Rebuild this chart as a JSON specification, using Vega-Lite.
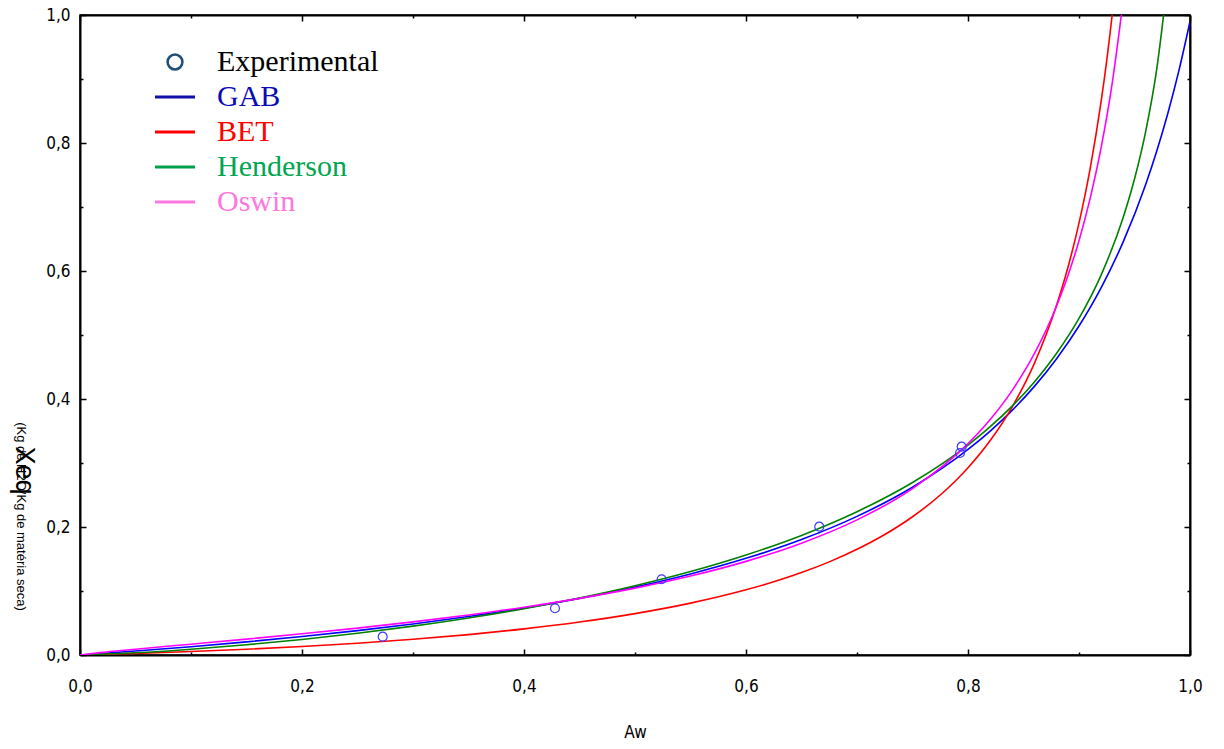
{
  "$schema": "https://vega.github.io/schema/vega-lite/v6.json",
  "width": 1110,
  "height": 640,
  "autosize": {"type": "none"},
  "padding": {"left": 80, "top": 15, "right": 34, "bottom": 94},
  "background": "white",
  "config": {
    "view": {"stroke": "black", "strokeWidth": 1.5},
    "axis": {
      "labelFont": "DejaVu Sans Condensed, Liberation Sans Narrow, Liberation Sans",
      "labelFontSize": 17,
      "labelColor": "black",
      "titleFont": "DejaVu Sans Condensed, Liberation Sans Narrow, Liberation Sans",
      "titleFontSize": 17,
      "titleFontWeight": "normal",
      "titleColor": "black",
      "domainColor": "black",
      "domainWidth": 2,
      "tickColor": "black",
      "tickWidth": 1.5,
      "grid": false
    }
  },
  "datasets": {
    "curves": [
      {"series": "GAB", "aw": 0, "xeq": 0},
      {"series": "GAB", "aw": 0.05, "xeq": 0.0062},
      {"series": "GAB", "aw": 0.1, "xeq": 0.013},
      {"series": "GAB", "aw": 0.15, "xeq": 0.0205},
      {"series": "GAB", "aw": 0.2, "xeq": 0.0288},
      {"series": "GAB", "aw": 0.25, "xeq": 0.0381},
      {"series": "GAB", "aw": 0.3, "xeq": 0.0484},
      {"series": "GAB", "aw": 0.35, "xeq": 0.0601},
      {"series": "GAB", "aw": 0.4, "xeq": 0.0733},
      {"series": "GAB", "aw": 0.45, "xeq": 0.0885},
      {"series": "GAB", "aw": 0.5, "xeq": 0.1061},
      {"series": "GAB", "aw": 0.55, "xeq": 0.1266},
      {"series": "GAB", "aw": 0.6, "xeq": 0.151},
      {"series": "GAB", "aw": 0.65, "xeq": 0.1804},
      {"series": "GAB", "aw": 0.7, "xeq": 0.2166},
      {"series": "GAB", "aw": 0.75, "xeq": 0.2621},
      {"series": "GAB", "aw": 0.8, "xeq": 0.3211},
      {"series": "GAB", "aw": 0.82, "xeq": 0.3499},
      {"series": "GAB", "aw": 0.84, "xeq": 0.3826},
      {"series": "GAB", "aw": 0.86, "xeq": 0.4201},
      {"series": "GAB", "aw": 0.88, "xeq": 0.4634},
      {"series": "GAB", "aw": 0.9, "xeq": 0.514},
      {"series": "GAB", "aw": 0.92, "xeq": 0.574},
      {"series": "GAB", "aw": 0.94, "xeq": 0.6463},
      {"series": "GAB", "aw": 0.96, "xeq": 0.7349},
      {"series": "GAB", "aw": 0.97, "xeq": 0.7871},
      {"series": "GAB", "aw": 0.98, "xeq": 0.8461},
      {"series": "GAB", "aw": 0.99, "xeq": 0.9131},
      {"series": "GAB", "aw": 1.0, "xeq": 0.99},
      {"series": "BET", "aw": 0, "xeq": 0},
      {"series": "BET", "aw": 0.05, "xeq": 0.0024},
      {"series": "BET", "aw": 0.1, "xeq": 0.0054},
      {"series": "BET", "aw": 0.15, "xeq": 0.009},
      {"series": "BET", "aw": 0.2, "xeq": 0.0133},
      {"series": "BET", "aw": 0.25, "xeq": 0.0184},
      {"series": "BET", "aw": 0.3, "xeq": 0.0245},
      {"series": "BET", "aw": 0.35, "xeq": 0.0319},
      {"series": "BET", "aw": 0.4, "xeq": 0.0408},
      {"series": "BET", "aw": 0.45, "xeq": 0.0515},
      {"series": "BET", "aw": 0.5, "xeq": 0.0647},
      {"series": "BET", "aw": 0.55, "xeq": 0.0811},
      {"series": "BET", "aw": 0.6, "xeq": 0.1019},
      {"series": "BET", "aw": 0.625, "xeq": 0.1144},
      {"series": "BET", "aw": 0.65, "xeq": 0.1288},
      {"series": "BET", "aw": 0.675, "xeq": 0.1455},
      {"series": "BET", "aw": 0.7, "xeq": 0.1651},
      {"series": "BET", "aw": 0.725, "xeq": 0.1882},
      {"series": "BET", "aw": 0.75, "xeq": 0.216},
      {"series": "BET", "aw": 0.775, "xeq": 0.25},
      {"series": "BET", "aw": 0.79, "xeq": 0.2743},
      {"series": "BET", "aw": 0.8, "xeq": 0.2926},
      {"series": "BET", "aw": 0.82, "xeq": 0.3351},
      {"series": "BET", "aw": 0.84, "xeq": 0.3882},
      {"series": "BET", "aw": 0.86, "xeq": 0.4565},
      {"series": "BET", "aw": 0.88, "xeq": 0.5476},
      {"series": "BET", "aw": 0.89, "xeq": 0.6054},
      {"series": "BET", "aw": 0.9, "xeq": 0.6749},
      {"series": "BET", "aw": 0.91, "xeq": 0.7597},
      {"series": "BET", "aw": 0.92, "xeq": 0.8657},
      {"series": "BET", "aw": 0.925, "xeq": 0.9292},
      {"series": "BET", "aw": 0.93, "xeq": 1.0019},
      {"series": "BET", "aw": 0.94, "xeq": 1.1833},
      {"series": "Henderson", "aw": 0, "xeq": 0},
      {"series": "Henderson", "aw": 0.05, "xeq": 0.0035},
      {"series": "Henderson", "aw": 0.1, "xeq": 0.0091},
      {"series": "Henderson", "aw": 0.15, "xeq": 0.016},
      {"series": "Henderson", "aw": 0.2, "xeq": 0.0243},
      {"series": "Henderson", "aw": 0.25, "xeq": 0.034},
      {"series": "Henderson", "aw": 0.3, "xeq": 0.0451},
      {"series": "Henderson", "aw": 0.35, "xeq": 0.0578},
      {"series": "Henderson", "aw": 0.4, "xeq": 0.0724},
      {"series": "Henderson", "aw": 0.45, "xeq": 0.089},
      {"series": "Henderson", "aw": 0.5, "xeq": 0.1082},
      {"series": "Henderson", "aw": 0.55, "xeq": 0.1304},
      {"series": "Henderson", "aw": 0.6, "xeq": 0.1563},
      {"series": "Henderson", "aw": 0.65, "xeq": 0.1869},
      {"series": "Henderson", "aw": 0.7, "xeq": 0.2239},
      {"series": "Henderson", "aw": 0.75, "xeq": 0.2696},
      {"series": "Henderson", "aw": 0.8, "xeq": 0.3281},
      {"series": "Henderson", "aw": 0.82, "xeq": 0.3567},
      {"series": "Henderson", "aw": 0.84, "xeq": 0.3893},
      {"series": "Henderson", "aw": 0.86, "xeq": 0.4271},
      {"series": "Henderson", "aw": 0.88, "xeq": 0.4718},
      {"series": "Henderson", "aw": 0.9, "xeq": 0.5259},
      {"series": "Henderson", "aw": 0.92, "xeq": 0.594},
      {"series": "Henderson", "aw": 0.94, "xeq": 0.6847},
      {"series": "Henderson", "aw": 0.95, "xeq": 0.7437},
      {"series": "Henderson", "aw": 0.96, "xeq": 0.8175},
      {"series": "Henderson", "aw": 0.97, "xeq": 0.9151},
      {"series": "Henderson", "aw": 0.98, "xeq": 1.0569},
      {"series": "Oswin", "aw": 0, "xeq": 0},
      {"series": "Oswin", "aw": 0.02, "xeq": 0.0041},
      {"series": "Oswin", "aw": 0.05, "xeq": 0.0091},
      {"series": "Oswin", "aw": 0.1, "xeq": 0.0169},
      {"series": "Oswin", "aw": 0.15, "xeq": 0.0248},
      {"series": "Oswin", "aw": 0.2, "xeq": 0.0331},
      {"series": "Oswin", "aw": 0.25, "xeq": 0.042},
      {"series": "Oswin", "aw": 0.3, "xeq": 0.0517},
      {"series": "Oswin", "aw": 0.35, "xeq": 0.0625},
      {"series": "Oswin", "aw": 0.4, "xeq": 0.0746},
      {"series": "Oswin", "aw": 0.45, "xeq": 0.0885},
      {"series": "Oswin", "aw": 0.5, "xeq": 0.1045},
      {"series": "Oswin", "aw": 0.55, "xeq": 0.1234},
      {"series": "Oswin", "aw": 0.6, "xeq": 0.1463},
      {"series": "Oswin", "aw": 0.65, "xeq": 0.1747},
      {"series": "Oswin", "aw": 0.7, "xeq": 0.2111},
      {"series": "Oswin", "aw": 0.75, "xeq": 0.2601},
      {"series": "Oswin", "aw": 0.8, "xeq": 0.3302},
      {"series": "Oswin", "aw": 0.82, "xeq": 0.3679},
      {"series": "Oswin", "aw": 0.84, "xeq": 0.4139},
      {"series": "Oswin", "aw": 0.86, "xeq": 0.4715},
      {"series": "Oswin", "aw": 0.88, "xeq": 0.5462},
      {"series": "Oswin", "aw": 0.89, "xeq": 0.5926},
      {"series": "Oswin", "aw": 0.9, "xeq": 0.6474},
      {"series": "Oswin", "aw": 0.91, "xeq": 0.7131},
      {"series": "Oswin", "aw": 0.92, "xeq": 0.7934},
      {"series": "Oswin", "aw": 0.93, "xeq": 0.8944},
      {"series": "Oswin", "aw": 0.94, "xeq": 1.0256}
    ],
    "points": [
      {"series": "Experimental", "aw": 0.2727, "xeq": 0.0286},
      {"series": "Experimental", "aw": 0.4279, "xeq": 0.073},
      {"series": "Experimental", "aw": 0.524, "xeq": 0.1183},
      {"series": "Experimental", "aw": 0.666, "xeq": 0.2005},
      {"series": "Experimental", "aw": 0.7943, "xeq": 0.3255},
      {"series": "Experimental", "aw": 0.7928, "xeq": 0.3156}
    ]
  },
  "layer": [
    {
      "data": {"name": "points"},
      "mark": {"type": "line", "opacity": 0, "strokeWidth": 3},
      "encoding": {
        "x": {"field": "aw", "type": "quantitative", "scale": {"domain": [0, 1], "nice": false, "zero": false}, "axis": null},
        "y": {"field": "xeq", "type": "quantitative", "scale": {"domain": [0, 1], "nice": false}, "axis": null},
        "color": {
          "field": "series", "type": "nominal",
          "scale": {
            "domain": ["Experimental", "GAB", "BET", "Henderson", "Oswin"],
            "range": ["#1f4e79", "#1010a8", "#ff0000", "#00a14b", "#ff77dd"]
          },
          "legend": {
            "orient": "none",
            "legendX": 80,
            "legendY": 32,
            "title": null,
            "padding": 0,
            "symbolType": "stroke",
            "symbolSize": 1600,
            "symbolStrokeWidth": 3,
            "symbolOpacity": 1,
            "labelOffset": 27,
            "rowPadding": 5,
            "labelFont": "Liberation Serif",
            "labelFontSize": 30,
            "labelLimit": 0,
            "encode": {
              "symbols": {
                "update": {
                  "shape": {"signal": "datum.value === 'Experimental' ? 'circle' : 'stroke'"},
                  "size": {"signal": "datum.value === 'Experimental' ? 220 : 1600"},
                  "strokeWidth": {"signal": "datum.value === 'Experimental' ? 2.5 : 3"},
                  "fill": {"value": "transparent"},
                  "opacity": {"value": 1}
                }
              },
              "labels": {
                "update": {
                  "fill": {"signal": "datum.value === 'Experimental' ? '#000000' : datum.value === 'GAB' ? '#0b0bb5' : datum.value === 'BET' ? '#ff0000' : datum.value === 'Henderson' ? '#00a651' : '#ff77dd'"}
                }
              }
            }
          }
        }
      }
    },
    {
      "data": {"name": "curves"},
      "mark": {"type": "line", "strokeWidth": 1.6, "clip": true, "interpolate": "monotone"},
      "encoding": {
        "x": {
          "field": "aw", "type": "quantitative",
          "scale": {"domain": [0, 1], "nice": false, "zero": false},
          "axis": {
            "orient": "bottom",
            "title": "Aw",
            "titleY": 77,
            "titleBaseline": "middle",
            "values": [0, 0.1, 0.2, 0.3, 0.4, 0.5, 0.6, 0.7, 0.8, 0.9, 1.0],
            "labelExpr": "(round(datum.value*10) % 2 == 0) ? replace(format(datum.value, '.1f'), '.', ',') : ''",
            "tickSize": {"condition": {"test": "round(datum.value*10) % 2 == 1", "value": -3}, "value": -6},
            "labelPadding": 29,
            "labelFlush": false
          }
        },
        "y": {
          "field": "xeq", "type": "quantitative",
          "scale": {"domain": [0, 1], "nice": false},
          "axis": {
            "orient": "left",
            "title": "(Kg de H2O/Kg de matéria seca)",
            "titleFont": "Liberation Sans",
            "titleFontSize": 13,
            "titleAngle": 90,
            "titleX": -60,
            "titleY": 501,
            "titleAlign": "center",
            "titleBaseline": "middle",
            "values": [0, 0.1, 0.2, 0.3, 0.4, 0.5, 0.6, 0.7, 0.8, 0.9, 1.0],
            "labelExpr": "(round(datum.value*10) % 2 == 0) ? replace(format(datum.value, '.1f'), '.', ',') : ''",
            "tickSize": {"condition": {"test": "round(datum.value*10) % 2 == 1", "value": -3}, "value": -6},
            "labelPadding": 16,
            "labelFlush": false
          }
        },
        "detail": {"field": "series", "type": "nominal"},
        "color": {
          "condition": [
            {"test": "datum.series === 'GAB'", "value": "#0000ff"},
            {"test": "datum.series === 'BET'", "value": "#ff0000"},
            {"test": "datum.series === 'Henderson'", "value": "#008000"}
          ],
          "value": "#ff00ff"
        }
      }
    },
    {
      "data": {"name": "points"},
      "mark": {"type": "point", "shape": "circle", "filled": false, "size": 80, "strokeWidth": 1.2, "opacity": 1, "color": "#3a3aff"},
      "encoding": {
        "x": {
          "field": "aw", "type": "quantitative",
          "scale": {"domain": [0, 1], "nice": false, "zero": false},
          "axis": {
            "orient": "top",
            "title": null,
            "labels": false,
            "values": [0, 0.1, 0.2, 0.3, 0.4, 0.5, 0.6, 0.7, 0.8, 0.9, 1.0],
            "tickSize": {"condition": {"test": "round(datum.value*10) % 2 == 1", "value": -3}, "value": -6}
          }
        },
        "y": {
          "field": "xeq", "type": "quantitative",
          "scale": {"domain": [0, 1], "nice": false},
          "axis": {
            "orient": "right",
            "title": "Xeq",
            "titleFont": "Liberation Sans",
            "titleFontSize": 27,
            "titleAngle": 90,
            "titleX": -1167,
            "titleY": 455,
            "titleAlign": "center",
            "titleBaseline": "middle",
            "labels": false,
            "values": [0, 0.1, 0.2, 0.3, 0.4, 0.5, 0.6, 0.7, 0.8, 0.9, 1.0],
            "tickSize": {"condition": {"test": "round(datum.value*10) % 2 == 1", "value": -3}, "value": -6}
          }
        }
      }
    }
  ],
  "resolve": {
    "axis": {"x": "independent", "y": "independent"}
  }
}
